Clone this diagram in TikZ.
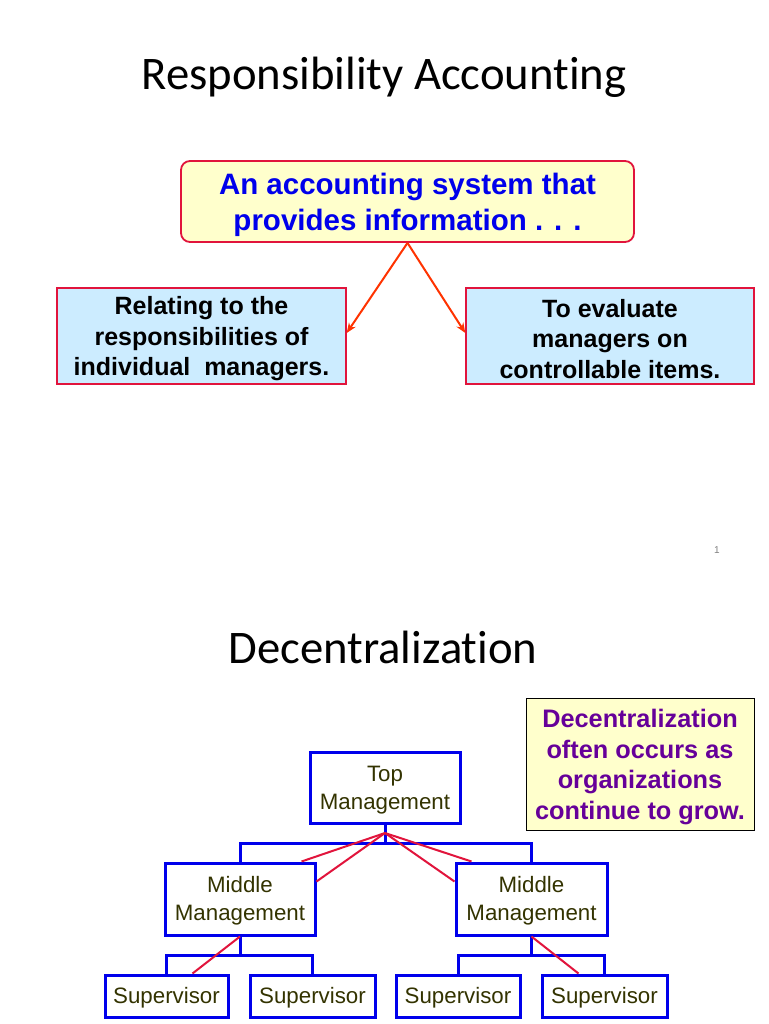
\documentclass[tikz,border=0pt]{standalone}
\usepackage{fontspec}
\setmainfont{Liberation Sans}
\newfontfamily\titlefont[Ligatures={NoCommon,NoRare,NoContextual}]{Carlito}
\usetikzlibrary{arrows.meta,calc}
\newcommand{\lowstrut}[1]{\rule{0pt}{#1}}
\definecolor{tblue}{RGB}{0,0,235}
\definecolor{tred}{RGB}{225,20,60}
\definecolor{arrowred}{RGB}{255,51,0}
\definecolor{lyellow}{RGB}{255,255,204}
\definecolor{lblue}{RGB}{204,236,255}
\definecolor{tpurple}{RGB}{102,0,153}
\definecolor{olive}{RGB}{51,51,0}
\tikzset{
  titletext/.style={font=\titlefont\fontsize{46.7}{50}\selectfont, anchor=base, inner sep=0pt},
  mainbox/.style={draw=tred, line width=1.8pt, fill=lyellow, rounded corners=9pt, inner sep=0pt,
    minimum width=453pt, minimum height=81pt, align=center, text=tblue,
    font=\bfseries\fontsize{29.5}{36}\selectfont},
  subbox/.style={draw=tred, line width=1.4pt, fill=lblue, inner sep=0pt,
    minimum width=289pt, minimum height=96pt, align=center, text=black,
    font=\bfseries\fontsize{25}{30.5}\selectfont},
  notebox/.style={draw=black, line width=0.9pt, fill=lyellow, inner sep=0pt,
    minimum width=228pt, minimum height=132pt, align=center, text=tpurple,
    font=\bfseries\fontsize{25.3}{30.7}\selectfont},
  orgbox/.style={draw=tblue, line width=3pt, fill=white, inner sep=0pt,
    minimum width=150pt, align=center, text=olive,
    font=\fontsize{22.3}{28}\selectfont},
  supbox/.style={orgbox, minimum height=42pt},
  midbox/.style={orgbox, minimum height=72pt},
  orgline/.style={draw=tblue, line width=3pt},
  redline/.style={draw=tred, line width=2pt},
  arrowline/.style={draw=arrowred, line width=2pt, -{Stealth[length=10pt,width=8pt]}}
}
\begin{document}
\begin{tikzpicture}[x=1pt,y=-1pt]
\fill[white] (0,0) rectangle (768,1024);
\useasboundingbox (0,0) rectangle (768,1024);

% ---- slide 1 ----
\node[titletext] (t1) at (384,90) {Responsibility Accounting};
\node[mainbox] (sys) at (407.5,201.5) {\lowstrut{27.5pt}An accounting system that\\provides information . . .};
\node[subbox] (rel) at (201.5,336) {\lowstrut{24.2pt}Relating to the\\responsibilities of\\individual~ managers.};
\node[subbox, minimum width=288pt] (eva) at (610,336) {\lowstrut{24.2pt}To evaluate\\managers on\\controllable items.};
\draw[arrowline] (sys.south) -- ([yshift=3pt]rel.east);
\draw[arrowline] (sys.south) -- ([yshift=3pt]eva.west);
\node[text=gray, font=\fontsize{10}{12}\selectfont, inner sep=0pt] (pg) at (717,550) {1};

% ---- slide 2 ----
\node[titletext] (t2) at (383,663) {Decentralization};
\node[notebox] (note) at (640,764) {\lowstrut{24.4pt}Decentralization\\often occurs as\\organizations\\continue to grow.};

\node[orgbox, minimum height=71pt] (top) at (385,787.5) {\lowstrut{20.3pt}Top\\Management};
\node[midbox] (midL) at (240,899) {\lowstrut{20.3pt}Middle\\Management};
\node[midbox, minimum width=151pt] (midR) at (531.5,899) {\lowstrut{20.3pt}Middle\\Management};
\node[supbox, minimum width=123pt] (s1) at (166.5,996) {\lowstrut{20.3pt}Supervisor};
\node[supbox, minimum width=125pt] (s2) at (312.5,996) {\lowstrut{20.3pt}Supervisor};
\node[supbox, minimum width=124pt] (s3) at (458,996) {\lowstrut{20.3pt}Supervisor};
\node[supbox, minimum width=125pt] (s4) at (604.5,996) {\lowstrut{20.3pt}Supervisor};

\coordinate (j1) at (385,843);
\coordinate (j2) at (240,955);
\coordinate (j3) at (531.5,955);
\coordinate (r) at (385,833);

\draw[orgline] (top.south) -- (j1);
\draw[orgline] (midL.north) |- (j1) -| (midR.north);
\draw[orgline] (midL.south) -- (j2);
\draw[orgline] (s1.north) |- (j2) -| (s2.north);
\draw[orgline] (midR.south) -- (j3);
\draw[orgline] (s3.north) |- (j3) -| (s4.north);

\draw[redline] (r) -- ([xshift=-15pt]midL.north east);
\draw[redline] (r) -- ([yshift=-20pt]midL.north east);
\draw[redline] (r) -- ([xshift=17pt]midR.north west);
\draw[redline] (r) -- ([yshift=-20pt]midR.north west);
\draw[redline] (midL.south) -- ([xshift=26pt]s1.north);
\draw[redline] (midR.south) -- ([xshift=-26pt]s4.north);
\end{tikzpicture}
\end{document}
